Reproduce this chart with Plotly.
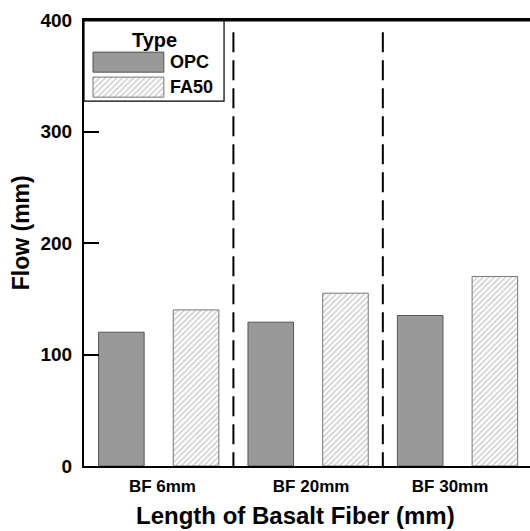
import plotly.graph_objects as go

# ---- data ----
categories = ["BF 6mm", "BF 20mm", "BF 30mm"]
opc_flow = [120, 129, 135]
fa50_flow = [140, 155, 170]
series_names = ["OPC", "FA50"]
y_ticks = [0, 100, 200, 300, 400]

FONT = "Liberation Sans, Arial, sans-serif"

opc_x = [2 * g for g in range(len(categories))]
fa_x = [2 * g + 1 for g in range(len(categories))]
label_pos = [2 * g + 0.5 + d for g, d in zip(range(len(categories)), [0.05, 0.04, -0.1])]
sep_pos = [2 * g + 1.5 for g in range(len(categories) - 1)]

HATCH = dict(shape="/", fgcolor="#a0a0a0", bgcolor="white", size=4, solidity=0.4)

fig = go.Figure()
fig.add_trace(go.Bar(
    x=opc_x, y=opc_flow, name=series_names[0], width=0.61,
    marker=dict(color="#999999", line=dict(color="#555555", width=1)),
    showlegend=False,
))
fig.add_trace(go.Bar(
    x=fa_x, y=fa50_flow, name=series_names[1], width=0.61,
    marker=dict(color="white", line=dict(color="#777777", width=1), pattern=HATCH),
    showlegend=False,
))

# legend swatches on an overlay axis in paper-like units
def rect(x0, x1, y0, y1):
    return [x0, x1, x1, x0, x0], [y0, y0, y1, y1, y0]

sx, sy = rect(0.0202, 0.179, 0.883, 0.928)
fig.add_trace(go.Scatter(x=sx, y=sy, xaxis="x2", yaxis="y2", mode="lines", fill="toself",
                         fillcolor="#999999", line=dict(color="#555555", width=1),
                         showlegend=False, hoverinfo="skip"))
sx, sy = rect(0.0202, 0.179, 0.827, 0.872)
fig.add_trace(go.Scatter(x=sx, y=sy, xaxis="x2", yaxis="y2", mode="lines", fill="toself",
                         fillcolor="white", fillpattern=HATCH,
                         line=dict(color="#777777", width=1),
                         showlegend=False, hoverinfo="skip"))

shapes = []
for xs in sep_pos:
    shapes.append(dict(type="line", xref="x", yref="y", x0=xs, x1=xs, y0=389, y1=0,
                       line=dict(color="black", width=2, dash="20px,8px")))
# legend box
shapes.append(dict(type="rect", xref="paper", yref="paper", x0=0, x1=0.314, y0=0.818, y1=1,
                   line=dict(color="black", width=1.2), fillcolor="rgba(0,0,0,0)"))
# thicker top frame line
shapes.append(dict(type="line", xref="paper", yref="paper", x0=0, x1=1, y0=1, y1=1,
                   line=dict(color="black", width=3)))

annotations = [
    dict(text="Type", x=0.157, y=0.955, xref="paper", yref="paper", showarrow=False,
         xanchor="center", yanchor="middle", font=dict(family=FONT, size=20, color="black", weight="bold")),
    dict(text=series_names[0], x=0.188, y=0.906, xref="paper", yref="paper", showarrow=False,
         xanchor="left", yanchor="middle", font=dict(family=FONT, size=18, color="black", weight="bold")),
    dict(text=series_names[1], x=0.188, y=0.850, xref="paper", yref="paper", showarrow=False,
         xanchor="left", yanchor="middle", font=dict(family=FONT, size=18, color="black", weight="bold")),
    dict(text="Length of Basalt Fiber (mm)", x=0.475, y=-0.11, xref="paper", yref="paper",
         showarrow=False, xanchor="center", yanchor="middle",
         font=dict(family=FONT, size=24, color="black", weight="bold")),
    dict(text="Flow (mm)", x=-0.141, y=0.522, xref="paper", yref="paper", textangle=-90,
         showarrow=False, xanchor="center", yanchor="middle",
         font=dict(family=FONT, size=23, color="black", weight="bold")),
]

fig.update_layout(
    width=530, height=531,
    margin=dict(l=84, r=0, t=20, b=65),
    paper_bgcolor="white", plot_bgcolor="white",
    barmode="overlay",
    showlegend=False,
    shapes=shapes, annotations=annotations,
    xaxis=dict(range=[-0.5, 5.47], tickvals=label_pos, ticktext=categories,
               showline=True, linecolor="black", linewidth=2, mirror=True,
               ticks="", showgrid=False, zeroline=False, ticklabelstandoff=4,
               tickfont=dict(family=FONT, size=17, color="black", weight="bold")),
    yaxis=dict(range=[0, 400], tickvals=y_ticks, showline=True, linecolor="black", linewidth=2,
               ticks="inside", ticklen=15, tickwidth=2, tickcolor="black",
               showgrid=False, zeroline=False, ticklabelstandoff=6,
               tickfont=dict(family=FONT, size=19, color="black", weight="bold")),
    xaxis2=dict(range=[0, 1], overlaying="x", visible=False, fixedrange=True),
    yaxis2=dict(range=[0, 1], overlaying="y", visible=False, fixedrange=True),
)

fig.write_html("out.html")
